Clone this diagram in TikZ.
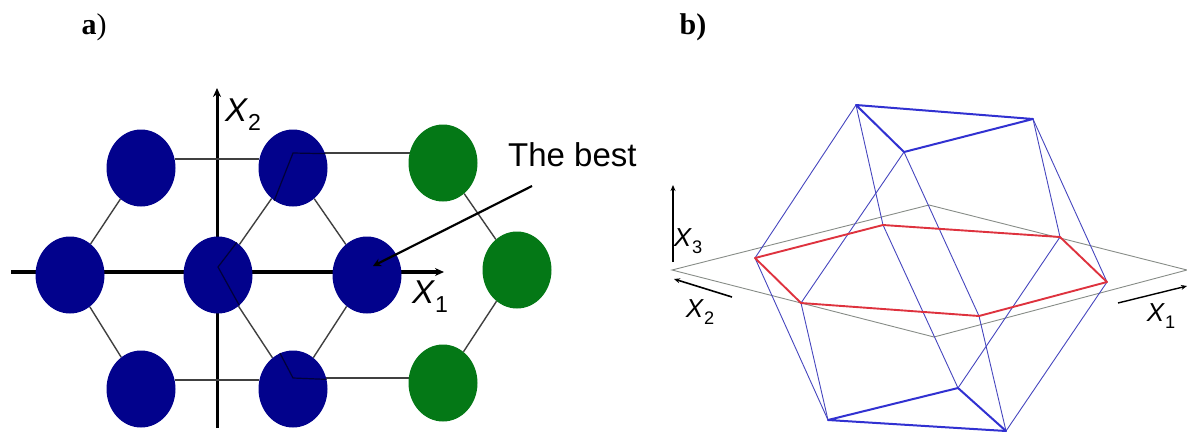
\documentclass[tikz,border=0pt]{standalone}
\usepackage{fontspec}
\setmainfont{Liberation Serif}
\newfontfamily\labelfont{Liberation Sans}
\usetikzlibrary{arrows.meta, backgrounds, shapes.geometric}
\definecolor{dotblue}{RGB}{2,2,140}
\definecolor{dotgreen}{RGB}{4,120,22}
\definecolor{wireblue}{RGB}{70,70,190}
\definecolor{wirered}{RGB}{222,50,62}
\definecolor{planegray}{RGB}{135,140,135}
\newcommand{\axislabel}[3]{{\labelfont\fontsize{#1}{#1}\selectfont\textit{#2}\raisebox{-0.28em}{\fontsize{0.7em}{0.7em}\selectfont #3}}}

\begin{document}
\begin{tikzpicture}[
    x=1pt, y=-1pt,
    bluedot/.style={ellipse, fill=dotblue, inner sep=0pt, minimum width=69pt, minimum height=77pt},
    greendot/.style={ellipse, fill=dotgreen, inner sep=0pt, minimum width=69pt, minimum height=77pt},
    link/.style={draw=black!75, line width=1.4pt},
    inlink/.style={draw=black!60!dotblue, line width=1.2pt},
    axisline/.style={-{Stealth[length=9pt,width=8pt]}, line width=#1},
    wire/.style={draw=wireblue, line width=0.9pt},
    wirethick/.style={draw=wireblue!70!blue, line width=2pt, line join=round},
    cutline/.style={draw=wirered, line width=1.9pt, line join=round},
    plane/.style={draw=planegray, line width=0.9pt},
    every node/.style={inner sep=0pt}
]
\useasboundingbox (0,0) rectangle (1187,432);

% Titles
\node[font=\fontsize{30}{30}\selectfont] (titleA) at (94,27) {\textbf{a})};
\node[font=\fontsize{30}{30}\selectfont\bfseries] (titleB) at (693,27) {b)};

% Lattice points
\node[bluedot] (A) at (141,168) {};
\node[bluedot] (B) at (293,168) {};
\node[greendot] (C) at (443,163) {};
\node[bluedot] (D) at (70,275) {};
\node[bluedot] (E) at (218,275) {};
\node[bluedot] (F) at (367,275) {};
\node[greendot] (G) at (517,270) {};
\node[bluedot] (H) at (141,389) {};
\node[bluedot] (I) at (293,389) {};
\node[greendot] (J) at (443,383) {};

% Axis ends
\coordinate (xstart) at (11,272);
\coordinate (xend) at (444,272);
\coordinate (ystart) at (217,428);
\coordinate (yend) at (217,88);

% Hexagon corners
\coordinate (hextop) at (293,153);
\coordinate (hexmid) at (218,267);
\coordinate (hexbot) at (293,378);

% Axes and hexagon, behind the points
\begin{scope}[on background layer]
\draw[axisline=4pt] (xstart) -- (xend);
\draw[axisline=3pt] (ystart) -- (yend);
\draw[link] (A.15) -- (B.165);
\draw[link] (hextop) -- (hextop -| C);
\draw[link] (H.15) -- (I.165);
\draw[link] (hexbot) -- (hexbot -| J);
\draw[link] (A) -- (D);
\draw[link] (D) -- (H);
\draw[link] (E) -- (B);
\draw[link] (E) -- (I);
\draw[link] (B) -- (F);
\draw[link] (F) -- (I);
\draw[link] (C) -- (G);
\draw[link] (G) -- (J);
\end{scope}

% Hexagon lines showing through
\draw[inlink] (B.-120) -- (hextop) -- (B.24);
\draw[inlink] (E.60) -- (hexmid) -- (E.-55);
\draw[inlink] (I.110) -- (hexbot) -- (I.16);

% The best
\node[font=\labelfont\fontsize{33}{33}\selectfont, anchor=west] (best) at (508,155) {The best};
\coordinate (bestfrom) at (532,186);
\coordinate (bestto) at (373,266);
\draw[-{Stealth[length=8pt,width=8pt]}, line width=2.2pt] (bestfrom) -- (bestto);
\node (labelx2) at (243,115) {\axislabel{33}{X}{2}};
\node (labelx1) at (430,297) {\axislabel{33}{X}{1}};

% Polyhedron corners
\coordinate (T1) at (856,105);
\coordinate (T2) at (1033,119);
\coordinate (T3) at (904,152);
\coordinate (R1) at (755,258);
\coordinate (R2) at (883,225);
\coordinate (R3) at (1060,237);
\coordinate (R4) at (1107,282);
\coordinate (R5) at (979,316);
\coordinate (R6) at (801,303);
\coordinate (B1) at (828,420);
\coordinate (B2) at (958,388);
\coordinate (B3) at (1006,431);
\coordinate (P1) at (672,270);
\coordinate (P2) at (929,205);
\coordinate (P3) at (1187,270);
\coordinate (P4) at (934,337);

% Plane
\draw[plane] (P1) -- (P2) -- (P3) -- (P4) -- cycle;

% Thin edges
\draw[wire] (T1) -- (R1) -- (B1);
\draw[wire] (T1) -- (R2) -- (B2);
\draw[wire] (T3) -- (R6) -- (B1);
\draw[wire] (T3) -- (R5) -- (B3);
\draw[wire] (T2) -- (R3) -- (B2);
\draw[wire] (T2) -- (R4) -- (B3);

% Thick faces
\draw[wirethick] (T1) -- (T2) -- (T3) -- cycle;
\draw[wirethick] (B1) -- (B2) -- (B3) -- cycle;

% Cut
\draw[cutline] (R1) -- (R2) -- (R3) -- (R4) -- (R5) -- (R6) -- cycle;

% Small axes
\coordinate (x3from) at (673,262);
\coordinate (x3to) at (673,185);
\coordinate (x2from) at (732,297);
\coordinate (x2to) at (674,279);
\coordinate (x1from) at (1118,303);
\coordinate (x1to) at (1187,286);
\draw[-{Stealth[length=6pt,width=5pt]}, line width=1.2pt] (x3from) -- (x3to);
\draw[-{Stealth[length=6pt,width=5pt]}, line width=1.6pt] (x2from) -- (x2to);
\draw[-{Stealth[length=6pt,width=5pt]}, line width=1.4pt] (x1from) -- (x1to);
\node (labelc) at (688,241) {\axislabel{26}{X}{3}};
\node (labelb) at (700,312) {\axislabel{26}{X}{2}};
\node (labela) at (1161,316) {\axislabel{26}{X}{1}};

\end{tikzpicture}
\end{document}
